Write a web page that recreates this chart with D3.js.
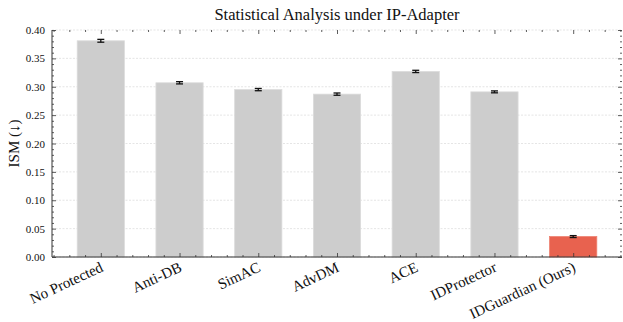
<!DOCTYPE html>
<html>
<head>
<meta charset="utf-8">
<script src="https://cdn.jsdelivr.net/npm/d3@7"></script>
<style>
  body { margin: 0; background: #fff; }
  text { font-family: "Liberation Serif", "DejaVu Serif", serif; fill: #111; }
</style>
</head>
<body>
<div id="chart"></div>
<script>
// values
const methods = ['No Protected', 'Anti-DB', 'SimAC', 'AdvDM', 'ACE', 'IDProtector', 'IDGuardian (Ours)'];
const ism = [0.381, 0.307, 0.295, 0.287, 0.327, 0.291, 0.036];
const ismErr = [0.0025, 0.002, 0.002, 0.002, 0.002, 0.0017, 0.0017];
const yTicks = [0.00, 0.05, 0.10, 0.15, 0.20, 0.25, 0.30, 0.35, 0.40];

const width = 623, height = 322;
const margin = {top: 30, right: 1, bottom: 65, left: 52};
const w = width - margin.left - margin.right;
const h = height - margin.top - margin.bottom;

const svg = d3.select('#chart').append('svg')
  .attr('width', width)
  .attr('height', height);

const g = svg.append('g')
  .attr('transform', 'translate(' + margin.left + ',' + margin.top + ')');

const x = d3.scaleLinear().domain([-0.62, methods.length - 1 + 0.62]).range([0, w]);
const y = d3.scaleLinear().domain([0, 0.4]).range([h, 0]);
const barW = x(0.6) - x(0);

// grid
g.append('g').selectAll('line')
  .data(yTicks)
  .join('line')
  .attr('x1', 0).attr('x2', w)
  .attr('y1', d => y(d)).attr('y2', d => y(d))
  .attr('stroke', '#d4d4d4')
  .attr('stroke-width', 0.6)
  .attr('stroke-dasharray', '2,1.5');

// bars
g.append('g').selectAll('rect')
  .data(ism)
  .join('rect')
  .attr('x', (d, i) => x(i) - barW / 2)
  .attr('width', barW)
  .attr('y', d => y(d))
  .attr('height', d => h - y(d))
  .attr('fill', (d, i) => i === methods.length - 1 ? '#e8624f' : '#cdcdcd')
  .attr('stroke', (d, i) => i === methods.length - 1 ? '#ee8070' : '#dcdcdc')
  .attr('stroke-width', 0.8);

// error bars
const eb = g.append('g').attr('stroke', '#111').attr('stroke-width', 1.3);
ism.forEach((v, i) => {
  const cx = x(i);
  eb.append('line').attr('x1', cx).attr('x2', cx).attr('y1', y(v - ismErr[i])).attr('y2', y(v + ismErr[i]));
  eb.append('line').attr('x1', cx - 3.5).attr('x2', cx + 3.5).attr('y1', y(v - ismErr[i])).attr('y2', y(v - ismErr[i]));
  eb.append('line').attr('x1', cx - 3.5).attr('x2', cx + 3.5).attr('y1', y(v + ismErr[i])).attr('y2', y(v + ismErr[i]));
});

// axes, ticks inward on all four sides
const minorX = d3.range(-0.6, methods.length - 1 + 0.61, 0.2).filter(d => Math.abs(d - Math.round(d)) > 0.01);
const minorY = d3.range(0, 0.401, 0.01).filter(d => Math.abs(d * 20 - Math.round(d * 20)) > 0.01);

const tickStyle = sel => {
  sel.select('.domain').remove();
  sel.selectAll('line').attr('stroke', '#333').attr('stroke-width', 0.8);
};

g.append('g')
  .attr('transform', 'translate(0,' + h + ')')
  .call(d3.axisBottom(x).tickValues(d3.range(methods.length)).tickSize(-4).tickFormat(''))
  .call(tickStyle);
g.append('g')
  .attr('transform', 'translate(0,' + h + ')')
  .call(d3.axisBottom(x).tickValues(minorX).tickSize(-2).tickFormat(''))
  .call(tickStyle);
g.append('g')
  .call(d3.axisTop(x).tickValues(d3.range(methods.length)).tickSize(-4).tickFormat(''))
  .call(tickStyle);
g.append('g')
  .call(d3.axisTop(x).tickValues(minorX).tickSize(-2).tickFormat(''))
  .call(tickStyle);

g.append('g')
  .call(d3.axisLeft(y).tickValues(yTicks).tickSize(-4).tickPadding(7).tickFormat(d3.format('.2f')))
  .call(tickStyle)
  .call(a => a.selectAll('text').style('font-size', '11px').style('font-family', '"Liberation Serif", serif'));
g.append('g')
  .call(d3.axisLeft(y).tickValues(minorY).tickSize(-2).tickFormat(''))
  .call(tickStyle);
g.append('g')
  .attr('transform', 'translate(' + w + ',0)')
  .call(d3.axisRight(y).tickValues(yTicks).tickSize(-4).tickFormat(''))
  .call(tickStyle);
g.append('g')
  .attr('transform', 'translate(' + w + ',0)')
  .call(d3.axisRight(y).tickValues(minorY).tickSize(-2).tickFormat(''))
  .call(tickStyle);

// spines (left and bottom only)
g.append('line').attr('x1', 0).attr('x2', 0).attr('y1', 0).attr('y2', h).attr('stroke', '#333').attr('stroke-width', 1);
g.append('line').attr('x1', 0).attr('x2', w).attr('y1', h).attr('y2', h).attr('stroke', '#333').attr('stroke-width', 1);

// category labels
g.append('g').selectAll('text')
  .data(methods)
  .join('text')
  .attr('transform', (d, i) => 'translate(' + (x(i) + 1) + ',' + (h + 9) + ') rotate(-25)')
  .attr('text-anchor', 'end')
  .attr('dy', '0.35em')
  .style('font-size', '15px')
  .text(d => d);

// title and y label
svg.append('text')
  .attr('x', margin.left + w / 2)
  .attr('y', 20)
  .attr('text-anchor', 'middle')
  .style('font-size', '16.5px')
  .text('Statistical Analysis under IP-Adapter');

svg.append('text')
  .attr('transform', 'translate(19,' + (margin.top + h / 2) + ') rotate(-90)')
  .attr('text-anchor', 'middle')
  .style('font-size', '15px')
  .text('ISM (\u2193)');
</script>
</body>
</html>
